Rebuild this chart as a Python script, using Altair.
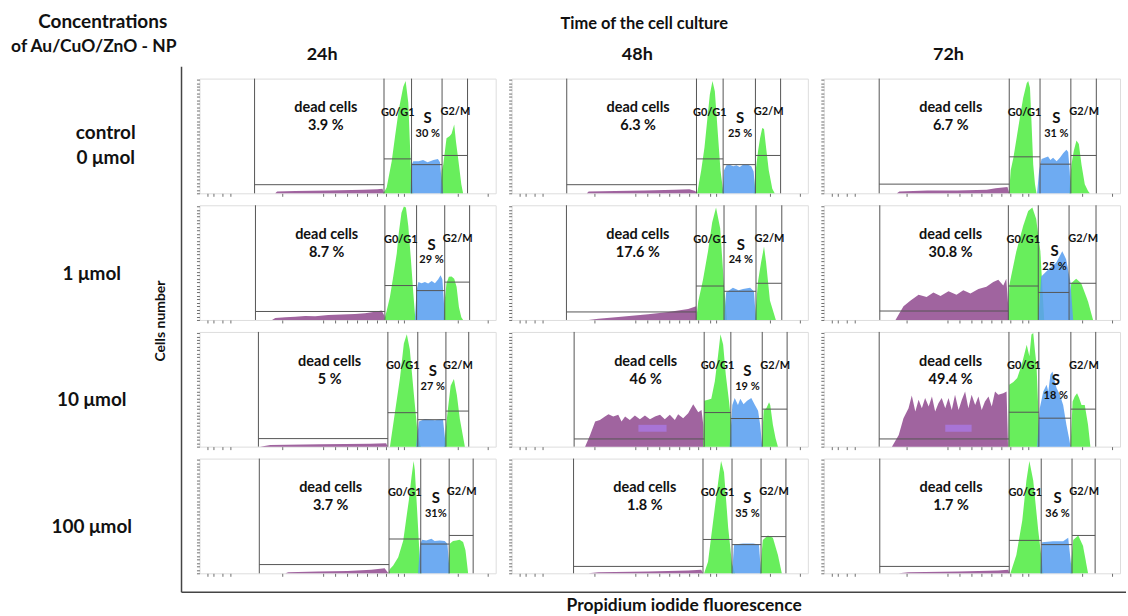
import altair as alt
import pandas as pd

FONT = "Lato"
PURPLE = "#a0649f"
LIGHT_VIOLET = "#a874d6"
GREEN = "#68ee5c"
BLUE = "#5a9ff0"
GATE = "#555555"
FRAME = "#8c8c8c"
TICK = "#6e6e6e"
AXIS_LINE = "#444444"

ROW_NAMES = ["control\n0 μmol", "1 μmol", "10 μmol", "100 μmol"]
COL_NAMES = ["24h", "48h", "72h"]

# ---- histograms: (channel, % of max count) per gate population ----
# control, 24 h
DEAD_C0_T24 = [(256, 0), (262, 1.5), (323, 2), (438, 2.5), (552, 3), (600, 3.5), (618, 4), (623, 0)]
G1_C0_T24 = [(621, 0), (632, 5), (649, 28), (660, 49), (673, 73), (688, 93), (696, 98), (705, 79), (714, 20), (722, 0)]
S_C0_T24 = [(712, 0), (716, 25), (722, 28), (740, 28), (755, 29), (770, 27), (790, 29), (805, 30), (812, 27), (818, 10), (823, 0)]
G2_C0_T24 = [(812, 0), (818, 20), (823, 25), (834, 48), (845, 50), (851, 52), (860, 60), (866, 45), (873, 31), (884, 8), (890, 0)]
# control, 48 h
DEAD_C0_T48 = [(254, 0), (260, 1.5), (350, 2), (450, 2.5), (550, 3), (600, 3.5), (620, 2), (624, 0)]
G1_C0_T48 = [(624, 0), (627, 1), (640, 20), (651, 40), (660, 63), (669, 86), (678, 98), (686, 89), (697, 49), (705, 20), (714, 2), (718, 0)]
S_C0_T48 = [(712, 0), (717, 20), (725, 24.5), (736, 25), (748, 23.5), (759, 24.5), (770, 23), (781, 25), (798, 25), (809, 23.5), (817, 19), (823, 0)]
G2_C0_T48 = [(817, 0), (824, 20), (832, 37), (839, 48.5), (846, 57), (852, 56), (859, 40), (868, 20), (880, 4), (888, 0)]
# control, 72 h
DEAD_C0_T72 = [(247, 0), (255, 1.5), (350, 2.5), (450, 2.5), (550, 3), (580, 4.5), (620, 5.5), (626, 0)]
G1_C0_T72 = [(626, 0), (626, 2), (631, 20), (640, 31), (651, 48.5), (662, 66), (673, 83), (685, 96), (690, 98), (696, 92), (701, 63), (707, 25), (713, 8), (718, 0)]
S_C0_T72 = [(720, 0), (727, 20), (735, 30), (746, 31), (757, 32), (765, 29), (774, 31), (786, 28), (797, 31), (808, 35), (819, 38), (825, 36), (830, 20), (834, 0)]
G2_C0_T72 = [(828, 0), (836, 25), (844, 37), (853, 46), (861, 43), (870, 25), (881, 8), (892, 2), (898, 0)]
# 1 umol, 24 h
DEAD_C1_T24 = [(245, 0), (256, 1.8), (290, 2.4), (323, 2.9), (357, 3.5), (391, 3.3), (435, 4.4), (480, 4.7), (525, 5.3), (559, 5.9), (581, 6.8), (598, 7.4), (615, 8.2), (624, 3.8), (626, 0)]
G1_C1_T24 = [(624, 0), (632, 8), (643, 20), (654, 37.6), (666, 58), (673, 76), (682, 93.5), (690, 99), (697, 98), (705, 82), (714, 52), (722, 23), (729, 0)]
S_C1_T24 = [(727, 0), (733, 26), (739, 33), (750, 32), (761, 33), (772, 31.8), (784, 34), (795, 32), (806, 35.6), (814, 39), (820, 35.6), (825, 17), (828, 0)]
G2_C1_T24 = [(823, 0), (828, 17), (834, 32), (842, 37.6), (851, 38), (860, 36), (868, 29), (876, 11), (884, 2.4), (890, 0)]
# 1 umol, 48 h
DEAD_C1_T48 = [(259, 0), (293, 1), (360, 2.5), (461, 5), (529, 7), (596, 9.5), (623, 12), (626, 0)]
G1_C1_T48 = [(623, 0), (630, 16), (646, 35), (663, 60), (677, 85), (690, 98), (704, 80), (717, 30), (727, 0)]
S_C1_T48 = [(717, 0), (724, 24), (747, 28), (766, 26), (781, 27), (805, 28), (818, 25), (825, 0)]
G2_C1_T48 = [(821, 0), (832, 34), (842, 50), (852, 64), (859, 50), (872, 17), (892, 0)]
# 1 umol, 72 h
DEAD_C1_T72 = [(242, 0), (269, 12), (293, 17), (320, 22), (347, 20), (370, 24), (394, 21), (421, 25), (448, 22), (471, 26), (495, 23), (522, 27), (549, 29), (572, 33), (589, 35), (606, 30), (616, 36), (626, 0)]
G1_C1_T72 = [(623, 0), (626, 30), (650, 60), (673, 82), (690, 95), (704, 98), (717, 88), (731, 60), (744, 0)]
S_C1_T72 = [(724, 0), (734, 38), (758, 44), (785, 50), (805, 60), (818, 53), (832, 34), (842, 0)]
G2_C1_T72 = [(828, 0), (835, 32), (852, 36), (869, 32), (892, 16), (909, 0)]
# 10 umol, 24 h
DEAD_C10_T24 = [(205, 0), (239, 1.5), (407, 2), (576, 2.5), (630, 3), (636, 0)]
G1_C10_T24 = [(643, 0), (660, 30), (677, 60), (690, 90), (700, 98), (710, 85), (724, 45), (737, 10), (747, 0)]
S_C10_T24 = [(731, 0), (741, 22), (761, 24), (795, 23), (822, 24), (832, 0)]
G2_C10_T24 = [(825, 0), (838, 31), (848, 53), (859, 59), (869, 45), (879, 24), (896, 0)]
# 10 umol, 48 h
DEAD_C10_T48 = [(248, 0), (265, 10.2), (282, 21.9), (298, 23.3), (315, 26.2), (327, 28.3), (343, 26.2), (360, 27.7), (371, 21.9), (383, 26.2), (399, 23.3), (416, 27.1), (433, 23.9), (450, 27.1), (467, 23.9), (484, 26.2), (501, 27.7), (517, 23.9), (534, 27.7), (551, 23.3), (562, 28.3), (579, 24.8), (596, 29.2), (613, 37), (630, 30), (641, 32), (647, 19), (650, 0)]
G1_C10_T48 = [(646, 0), (650, 40), (663, 40.8), (674, 41.7), (686, 56.9), (697, 80), (705, 98), (714, 89), (723, 62.7), (734, 39.4), (740, 24.8), (743, 0)]
S_C10_T48 = [(736, 0), (745, 36.4), (753, 42.3), (764, 36.4), (772, 41.7), (783, 37), (795, 40), (809, 42.3), (820, 37), (832, 31.2), (839, 19), (846, 0)]
G2_C10_T48 = [(844, 0), (851, 32), (860, 33.5), (869, 38.8), (873, 36.4), (882, 19), (891, 7.3), (899, 0)]
# 10 umol, 72 h
DEAD_C10_T72 = [(230, 0), (253, 10.2), (269, 24.8), (286, 33.5), (297, 44.6), (309, 30.6), (320, 40.8), (331, 33.5), (342, 42.3), (354, 35), (365, 43.7), (376, 30.6), (387, 37.9), (398, 42.3), (410, 33.5), (421, 42.3), (432, 32), (443, 45.2), (455, 32), (466, 40.8), (477, 48.1), (488, 33.5), (499, 45.2), (511, 36.4), (522, 43.7), (533, 32), (544, 39.4), (556, 43.7), (567, 35), (578, 48.1), (589, 45.2), (606, 46.6), (617, 48.1), (622, 0)]
G1_C10_T72 = [(623, 0), (626, 53.9), (640, 56.3), (653, 59.8), (668, 71.4), (685, 88.9), (694, 78.7), (701, 97.7), (707, 99), (713, 83.1), (718, 71.4), (724, 33.5), (727, 0)]
S_C10_T72 = [(720, 0), (729, 33.5), (741, 48.1), (752, 53.9), (758, 48.1), (765, 62.7), (772, 65.6), (777, 59.8), (786, 51), (797, 45.2), (808, 36.4), (819, 19), (828, 7.3), (833, 0)]
G2_C10_T72 = [(833, 0), (840, 39.4), (847, 43.7), (855, 46.6), (862, 42.3), (870, 36.4), (881, 36.4), (892, 19), (900, 0)]
# 100 umol, 24 h
DEAD_C100_T24 = [(290, 0), (300, 1), (400, 1.5), (500, 2), (580, 3), (625, 4.5), (638, 0)]
G1_C100_T24 = [(638, 0), (643, 3.8), (654, 6.7), (671, 14), (688, 28.7), (699, 49.3), (707, 64), (716, 84.5), (723, 98), (727, 90), (736, 49.3), (744, 11), (750, 0)]
S_C100_T24 = [(738, 0), (745, 25.8), (752, 29.3), (766, 28.7), (783, 30.2), (794, 28.2), (811, 28.7), (828, 28.2), (837, 25.8), (845, 0)]
G2_C100_T24 = [(839, 0), (845, 25.8), (856, 28.2), (867, 28.7), (878, 29.3), (890, 27.3), (898, 20), (907, 0)]
# 100 umol, 48 h
DEAD_C100_T48 = [(259, 0), (293, 1), (461, 1.5), (596, 2.5), (640, 3), (646, 0)]
G1_C100_T48 = [(650, 0), (663, 10), (680, 45), (700, 85), (707, 98), (717, 88), (731, 40), (744, 8), (754, 0)]
S_C100_T48 = [(744, 0), (751, 25), (781, 26), (815, 26), (835, 25), (842, 0)]
G2_C100_T48 = [(838, 0), (848, 29), (865, 33), (882, 31), (899, 16), (912, 0)]
# 100 umol, 72 h
DEAD_C100_T72 = [(253, 0), (286, 1), (455, 1.5), (589, 2.5), (623, 3), (626, 0)]
G1_C100_T72 = [(630, 0), (650, 16), (670, 46), (684, 81), (694, 98), (707, 81), (724, 37), (741, 0)]
S_C100_T72 = [(731, 0), (737, 27), (774, 28), (808, 28), (825, 31), (838, 0)]
G2_C100_T72 = [(832, 0), (842, 29), (859, 33), (875, 24), (892, 0)]

# gate boundaries (dead | G0/G1 | S | G2/M) and the level of each gate marker
GATES = [
    [[186, 623, 716, 819, 905], [186, 624, 714, 823, 908], [187, 626, 730, 834, 920]],
    [[189, 626, 733, 828, 912], [185, 623, 717, 825, 912], [189, 623, 724, 828, 919]],
    [[199, 636, 737, 832, 909], [211, 650, 740, 846, 930], [187, 625, 726, 834, 918]],
    [[202, 640, 747, 843, 924], [209, 646, 744, 842, 926], [189, 626, 734, 838, 916]],
]
LEVELS = [
    [[7.5, 30, 25, 33], [7.5, 30, 25, 33], [8, 31.8, 25.4, 33]],
    [[7.4, 30, 25.6, 33], [7, 29.6, 25, 32], [7.8, 29.6, 24, 32]],
    [[7, 29.6, 23.5, 31], [6.7, 29.7, 24.5, 32.7], [6.7, 30, 24.8, 32.7]],
    [[7.6, 29.9, 25.5, 33], [6, 29.5, 25, 32], [6, 28.7, 25, 33]],
]
DEAD_PCT = [["3.9 %", "6.3 %", "6.7 %"], ["8.7 %", "17.6 %", "30.8 %"],
            ["5 %", "46 %", "49.4 %"], ["3.7 %", "1.8 %", "1.7 %"]]
S_PCT = [["30 %", "25 %", "31 %"], ["29 %", "24 %", "25 %"],
         ["27 %", "19 %", "18 %"], ["31%", "35 %", "36 %"]]

# highlighted sub-range inside the dead-cell population (x from, x to, y from, y to)
HILITE_C10_T48 = [428, 523, 13, 19]
HILITE_C10_T72 = [410, 499, 13, 19]

DEAD = [[DEAD_C0_T24, DEAD_C0_T48, DEAD_C0_T72], [DEAD_C1_T24, DEAD_C1_T48, DEAD_C1_T72],
        [DEAD_C10_T24, DEAD_C10_T48, DEAD_C10_T72], [DEAD_C100_T24, DEAD_C100_T48, DEAD_C100_T72]]
G1 = [[G1_C0_T24, G1_C0_T48, G1_C0_T72], [G1_C1_T24, G1_C1_T48, G1_C1_T72],
      [G1_C10_T24, G1_C10_T48, G1_C10_T72], [G1_C100_T24, G1_C100_T48, G1_C100_T72]]
S = [[S_C0_T24, S_C0_T48, S_C0_T72], [S_C1_T24, S_C1_T48, S_C1_T72],
     [S_C10_T24, S_C10_T48, S_C10_T72], [S_C100_T24, S_C100_T48, S_C100_T72]]
G2 = [[G2_C0_T24, G2_C0_T48, G2_C0_T72], [G2_C1_T24, G2_C1_T48, G2_C1_T72],
      [G2_C10_T24, G2_C10_T48, G2_C10_T72], [G2_C100_T24, G2_C100_T48, G2_C100_T72]]
HILITE = {(2, 1): HILITE_C10_T48, (2, 2): HILITE_C10_T72}

# tick positions along the fluorescence axis and the count axis
X_TICKS = [26, 48, 76, 104, 281, 416, 458, 497, 531, 565, 598, 630, 671, 691, 873, 974]
Y_TICKS = [0, 3, 6, 9, 12, 15, 18, 21, 24, 27, 30, 33, 36, 39, 42, 45, 48, 51, 54, 57,
           60, 63, 66, 69, 72, 75, 78, 81, 84, 87, 90, 93, 96, 99]

# lowering of the S label where the S peak is tall
S_TEXT_DROP = [[0, 0, 0], [0, 0, 5.5], [0, 0, 7.5], [0, 0, 0]]

PANEL_W, PANEL_H = 297, 115
ROW_GAP, COL_GAP = 12, 16
GRID_H = 4 * PANEL_H + 3 * ROW_GAP

X = alt.X("x:Q", scale=alt.Scale(domain=[0, 1000], nice=False, zero=False),
          axis=alt.Axis(values=X_TICKS, labels=False, domain=False, grid=False,
                        tickSize=3, tickColor=TICK, tickWidth=1, title=None))
Y = alt.Y("y:Q", scale=alt.Scale(domain=[0, 100], nice=False, zero=False),
          axis=alt.Axis(values=Y_TICKS, labels=False, domain=False, grid=False,
                        tickSize=3, tickColor=TICK, tickWidth=1, title=None))


def area(points, color, opacity=1.0):
    df = pd.DataFrame(points, columns=["x", "y"])
    return alt.Chart(df).mark_area(color=color, opacity=opacity,
                                   interpolate="linear").encode(x=X, y=Y)


def panel(r, c):
    gates = GATES[r][c]
    levels = LEVELS[r][c]
    vlines = alt.Chart(pd.DataFrame({"x": gates})).mark_rule(
        color=GATE, strokeWidth=1).encode(x=X)
    hlines = alt.Chart(pd.DataFrame({"x": gates[:-1], "x1": gates[1:], "y": levels})).mark_rule(
        color=GATE, strokeWidth=1).encode(x=X, x2="x1:Q", y=Y)

    mid = [(gates[i] + gates[i + 1]) / 2 for i in range(4)]
    drop = S_TEXT_DROP[r][c]
    big = pd.DataFrame({"x": [mid[0] + 22, mid[0] + 22],
                        "y": [74, 58.5],
                        "t": ["dead cells", DEAD_PCT[r][c]]})
    small = pd.DataFrame({"x": [mid[1], mid[2] + 3, mid[3] + 2],
                          "y": [70, 52 - drop, 70.5],
                          "t": ["G0/G1", S_PCT[r][c], "G2/M"]})
    s_lab = pd.DataFrame({"x": [mid[2] + 3], "y": [65.5 - drop], "t": ["S"]})

    t_big = alt.Chart(big).mark_text(font=FONT, fontSize=14.5, fontWeight="bold",
                                     color="#111").encode(x=X, y=Y, text="t:N")
    t_small = alt.Chart(small).mark_text(font=FONT, fontSize=11, fontWeight="bold",
                                         color="#111").encode(x=X, y=Y, text="t:N")
    t_s = alt.Chart(s_lab).mark_text(font=FONT, fontSize=15, fontWeight="bold",
                                     color="#111").encode(x=X, y=Y, text="t:N")

    layers = [area(DEAD[r][c], PURPLE)]
    if (r, c) in HILITE:
        x0, x1, y0, y1 = HILITE[(r, c)]
        box = pd.DataFrame({"x": [x0], "x1": [x1], "y": [y0], "y1": [y1]})
        layers.append(alt.Chart(box).mark_rect(color=LIGHT_VIOLET).encode(
            x=X, x2="x1:Q", y=Y, y2="y1:Q"))
    layers += [
        area(G1[r][c], GREEN),
        area(G2[r][c], GREEN),
        area(S[r][c], BLUE, 0.88),
        vlines, hlines, t_big, t_small, t_s,
    ]
    return alt.layer(*layers).properties(width=PANEL_W, height=PANEL_H)


grid = alt.concat(
    *[panel(r, c) for r in range(4) for c in range(3)],
    columns=3,
    spacing=alt.RowColnumber(row=ROW_GAP, column=COL_GAP),
    bounds="flush",
)

# ---- left column: concentration labels, shared axis lines and headings ----
one = pd.DataFrame({"k": [0]})


def note(text, x, y, size, angle=0, align="center"):
    return alt.Chart(one).mark_text(font=FONT, fontSize=size, fontWeight="bold",
                                    color="#111", angle=angle, align=align,
                                    baseline="middle").encode(
        x=alt.value(x), y=alt.value(y), text=alt.value(text))


ROW_Y = alt.Y("row:N", sort=ROW_NAMES,
              scale=alt.Scale(type="band", domain=ROW_NAMES,
                              paddingInner=ROW_GAP / (PANEL_H + ROW_GAP), paddingOuter=0),
              axis=None)
row_df = pd.DataFrame({"row": ROW_NAMES, "lines": [2, 1, 1, 1]})


def row_text(n_lines, x, dy):
    return alt.Chart(row_df).transform_filter(
        alt.datum.lines == n_lines
    ).mark_text(
        font=FONT, fontSize=19, fontWeight="bold", color="#111",
        lineBreak="\n", lineHeight=25, dy=dy,
    ).encode(x=alt.value(x), y=ROW_Y, text="row:N")


v_axis = alt.Chart(one).mark_rule(color=AXIS_LINE, strokeWidth=1.5).encode(
    x=alt.value(181), y=alt.value(-12), y2=alt.value(GRID_H + 19))
h_axis = alt.Chart(one).mark_rule(color=AXIS_LINE, strokeWidth=1.5).encode(
    x=alt.value(181), x2=alt.value(1128), y=alt.value(GRID_H + 19))

left = alt.layer(
    row_text(2, 105, -2.5), row_text(1, 91, 11), v_axis, h_axis,
    note("Concentrations", 102, -57, 19),
    note("of Au/CuO/ZnO - NP", 93, -32, 17.5),
    note("Time of the cell culture", 645, -55, 16.5),
    note(COL_NAMES[0], 322, -24, 18),
    note(COL_NAMES[1], 638, -24, 18),
    note(COL_NAMES[2], 950, -24, 18),
    note("Cells number", 160, 243, 14, angle=270),
    note("Propidium iodide fluorescence", 685, GRID_H + 33, 17.5),
).properties(width=181, height=GRID_H,
             view=alt.ViewBackground(stroke="transparent"))

chart = alt.hconcat(left, grid, spacing=18, bounds="flush").properties(
    padding={"left": 0, "top": 11, "right": 0, "bottom": 0},
    background="white",
).configure_view(stroke=FRAME, strokeWidth=1.5).configure(font=FONT)

chart.save("out.html", embed_options={"renderer": "svg", "actions": False})
